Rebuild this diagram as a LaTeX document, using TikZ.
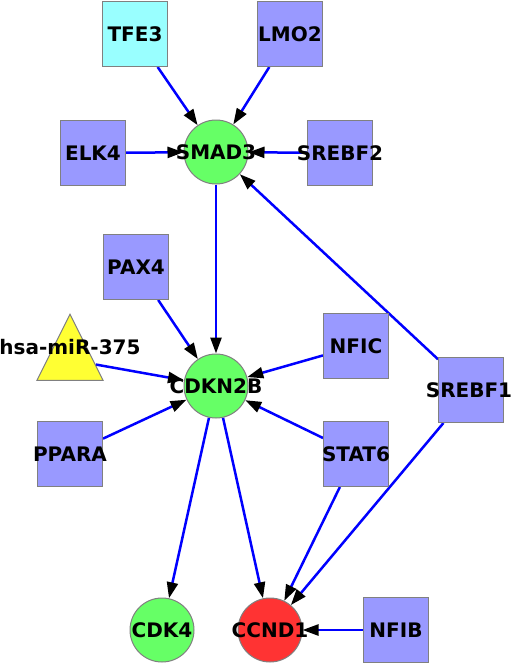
\documentclass[tikz,border=0pt]{standalone}
\usepackage{fontspec}
\setmainfont{DejaVu Sans}
\usetikzlibrary{arrows.meta,shapes.geometric,backgrounds}
\definecolor{boxc}{RGB}{153,153,255}
\definecolor{cyanc}{RGB}{153,255,255}
\definecolor{greenc}{RGB}{102,255,102}
\definecolor{redc}{RGB}{255,51,51}
\definecolor{yellowc}{RGB}{255,255,51}
\definecolor{bordc}{RGB}{128,128,128}
\definecolor{edgec}{RGB}{0,0,255}
\newcommand{\zl}[1]{\makebox[0pt][c]{#1}}
\begin{document}
\begin{tikzpicture}[x=1pt,y=-1pt,
  lbl/.style={font=\fontsize{20}{24}\selectfont\bfseries},
  gene/.style={rectangle,draw=bordc,line width=1pt,fill=boxc,minimum size=65pt,inner sep=0pt,lbl},
  hub/.style={circle,draw=bordc,line width=1pt,minimum size=64pt,inner sep=0pt,lbl},
  tri/.style={isosceles triangle,isosceles triangle stretches,shape border rotate=90,draw=bordc,line width=1pt,fill=yellowc,minimum width=66pt,minimum height=66pt,inner sep=0pt},
  link/.style={draw=edgec,line width=2.5pt,-{Triangle[length=16pt,width=11pt,color=black,fill=black]}}
]
\useasboundingbox (0,0) rectangle (512,665);
% nodes
\node[gene,fill=cyanc] (tfe3) at (135,34) {\zl{TFE3}};
\node[gene] (lmo2) at (290,34) {\zl{LMO2}};
\node[gene] (elk4) at (93,153) {\zl{ELK4}};
\node[hub,fill=greenc] (smad3) at (216,152) {\zl{SMAD3}};
\node[gene] (srebf2) at (340,153) {\zl{SREBF2}};
\node[gene] (pax4) at (136,267) {\zl{PAX4}};
\node[tri,anchor=apex] (mir) at (70,313) {};
\node[lbl,inner sep=0pt] (mirlbl) at (70,347) {hsa-miR-375};
\node[hub,fill=greenc] (cdkn2b) at (216,386) {\zl{CDKN2B}};
\node[gene] (nfic) at (356,346) {\zl{NFIC}};
\node[gene] (srebf1) at (471,390) {\zl{\hspace*{-4pt}SREBF1}};
\node[gene] (ppara) at (70,454) {\zl{PPARA}};
\node[gene] (stat6) at (356,454) {\zl{STAT6}};
\node[hub,fill=greenc] (cdk4) at (162,630) {\zl{CDK4}};
\node[hub,fill=redc] (ccnd1) at (270,630) {\zl{CCND1}};
\node[gene] (nfib) at (396,630) {\zl{NFIB}};
% edges
\begin{scope}[on background layer]
\draw[link] (tfe3) -- (smad3);
\draw[link] (lmo2) -- (smad3);
\draw[link] (elk4) -- (smad3);
\draw[link] (srebf2) -- (smad3);
\draw[link] (srebf1) -- (smad3);
\draw[link] (smad3) -- (cdkn2b);
\draw[link] (pax4) -- (cdkn2b);
\draw[link] (mir) -- (cdkn2b);
\draw[link] (nfic) -- (cdkn2b);
\draw[link] (ppara) -- (cdkn2b);
\draw[link] (stat6) -- (cdkn2b);
\draw[link] (cdkn2b) -- (cdk4);
\draw[link] (cdkn2b) -- (ccnd1);
\draw[link] (stat6) -- (ccnd1);
\draw[link] (srebf1) -- (ccnd1);
\draw[link] (nfib) -- (ccnd1);
\end{scope}
\end{tikzpicture}
\end{document}
